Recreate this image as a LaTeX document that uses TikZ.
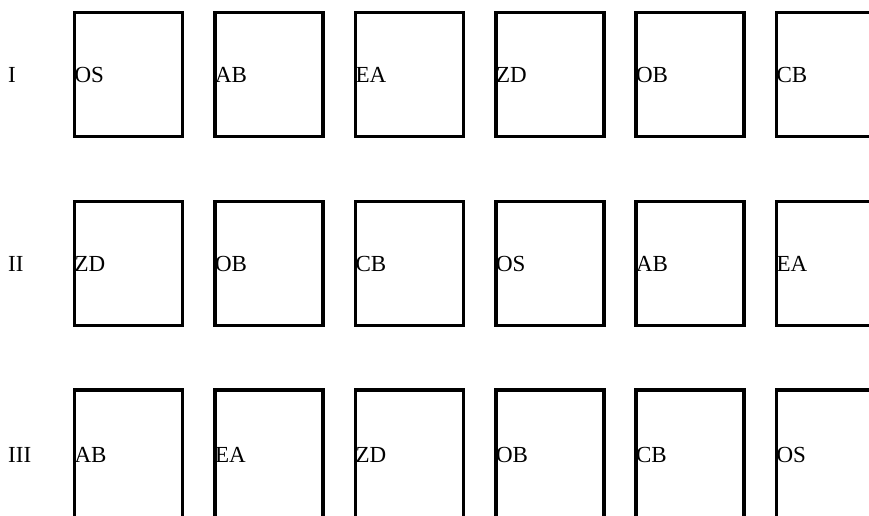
\documentclass[tikz,border=0pt]{standalone}
\usepackage{fontspec}
\setmainfont{Liberation Serif}
\usetikzlibrary{positioning}

\tikzset{
  cell/.style={draw,line width=3.2pt,minimum width=108pt,minimum height=124pt,
    text width=108pt,inner sep=0pt,align=left,font=\fontsize{23}{27}\selectfont},
  lastcell/.style={cell,minimum height=130pt},
  rowlbl/.style={anchor=west,inner sep=0pt,font=\fontsize{23}{27}\selectfont}
}

\begin{document}
\begin{tikzpicture}[x=1pt,y=-1pt]
  \useasboundingbox (0,0) rectangle (869,515);

  % first row
  \node[rowlbl] (rowI) at (8,75) {I};
  \node[cell] (r1c1) at (128.5,74.5) {OS};
  \node[cell] (r1c2) at (269,74.5) {AB};
  \node[cell] (r1c3) at (409.5,74.5) {EA};
  \node[cell] (r1c4) at (550,74.5) {ZD};
  \node[cell] (r1c5) at (690,74.5) {OB};
  \node[cell] (r1c6) at (830.5,74.5) {CB};

  % second row
  \node[rowlbl] (rowII) at (8,264) {II};
  \node[cell] (r2c1) at (128.5,263.5) {ZD};
  \node[cell] (r2c2) at (269,263.5) {OB};
  \node[cell] (r2c3) at (409.5,263.5) {CB};
  \node[cell] (r2c4) at (550,263.5) {OS};
  \node[cell] (r2c5) at (690,263.5) {AB};
  \node[cell] (r2c6) at (830.5,263.5) {EA};

  % third row, cut off at the bottom
  \node[rowlbl] (rowIII) at (8,455) {III};
  \node[lastcell] (r3c1) at (128.5,455) {AB};
  \node[lastcell] (r3c2) at (269,455) {EA};
  \node[lastcell] (r3c3) at (409.5,455) {ZD};
  \node[lastcell] (r3c4) at (550,455) {OB};
  \node[lastcell] (r3c5) at (690,455) {CB};
  \node[lastcell] (r3c6) at (830.5,455) {OS};
\end{tikzpicture}
\end{document}
